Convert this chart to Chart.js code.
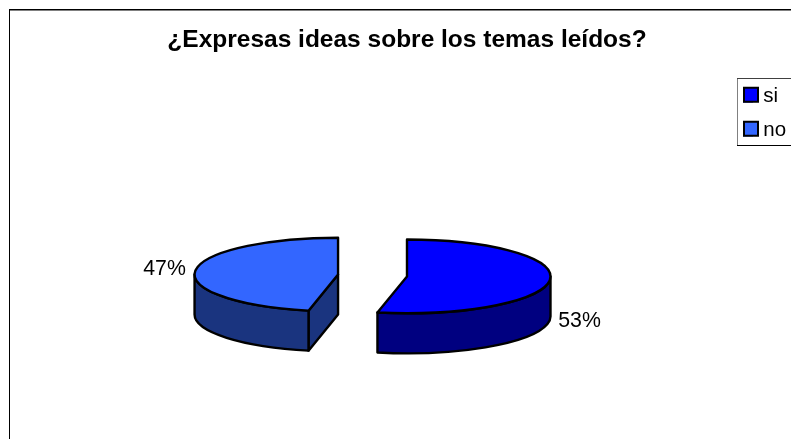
<!DOCTYPE html>
<html><head><meta charset="utf-8">
<style>html,body{margin:0;padding:0;background:#fff}#c{display:block}</style>
<script src="https://cdn.jsdelivr.net/npm/chart.js@4"></script>
</head><body>
<div style="width:791px;height:439px"><canvas id="c" width="791" height="439"></canvas></div>
<script>
const categories = ['si', 'no'];
const shares = [53.3, 46.7];
const valueLabels = ['53%', '47%'];
const topColors = ['#0000FF', '#3366FF'];
const wallColors = ['#000080', '#1A347F'];
const titleText = '¿Expresas ideas sobre los temas leídos?';
const FONT = '"Liberation Sans", Arial, sans-serif';
const TILT = 0.257, DEPTH = 40, EXPLODE = 34.65, NUDGE_X = -1.2, LEG_PAD = 13.5, ROW = 34;

function arcGeom(chart, i) {
  const el = chart.getDatasetMeta(0).data[i];
  const p = el.getProps(['x','y','startAngle','endAngle','outerRadius']);
  const cy0 = (chart.chartArea.top + chart.chartArea.bottom) / 2;
  return {a0:p.startAngle, a1:p.endAngle, mid:(p.startAngle+p.endAngle)/2, R:p.outerRadius,
    cx:p.x, cy:cy0 + (p.y-cy0)*TILT, cy0};
}
const pie3d = {
  id:'pie3d',
  afterLayout(chart){
    const l = chart.legend;
    l.left = 729.5; l.right = 860; l.top = 72.25; l.bottom = 170;
  },
  afterDatasetsUpdate(chart){
    chart.getDatasetMeta(0).data.forEach(el=>{
      const mid = (el.startAngle + el.endAngle) / 2;
      el.x += Math.cos(mid)*EXPLODE + NUDGE_X;
      el.y += Math.sin(mid)*EXPLODE;
    });
  },
  beforeDraw(chart){
    const c = chart.ctx, W = chart.width, H = chart.height;
    c.save();
    c.fillStyle = '#fff'; c.fillRect(0,0,W,H);
    c.fillStyle = '#000'; c.fillRect(9,9,W-9,1); c.fillRect(9,9,1,H-9);
    c.fillStyle = '#808080'; c.fillRect(10,10,W-10,1);
    c.restore();
  },
  beforeDatasetsDraw(chart){
    const c = chart.ctx;
    c.save();
    c.lineWidth = 2.4; c.strokeStyle = '#000'; c.lineJoin = 'round';
    categories.forEach((_,i)=>{
      const g = arcGeom(chart,i);
      c.fillStyle = wallColors[i];
      // cut face at the start angle, when it is turned towards the viewer
      if (Math.cos(g.a0) < -1e-6) {
        const x = g.cx + g.R*Math.cos(g.a0), y = g.cy + g.R*TILT*Math.sin(g.a0);
        c.beginPath(); c.moveTo(g.cx,g.cy); c.lineTo(x,y); c.lineTo(x,y+DEPTH); c.lineTo(g.cx,g.cy+DEPTH); c.closePath();
        c.fill(); c.stroke();
      }
      // rim wall
      const s = Math.max(g.a0,0), e = Math.min(g.a1,Math.PI);
      if (e > s) {
        c.beginPath();
        c.ellipse(g.cx,g.cy,g.R,g.R*TILT,0,s,e);
        c.ellipse(g.cx,g.cy+DEPTH,g.R,g.R*TILT,0,e,s,true);
        c.closePath(); c.fill(); c.stroke();
      }
    });
    c.restore();
    const cy = arcGeom(chart,0).cy0;
    c.save();
    c.translate(0,cy); c.scale(1,TILT); c.translate(0,-cy);
  },
  afterDatasetsDraw(chart){
    const c = chart.ctx;
    c.restore();
    c.save();
    c.lineWidth = 2.4; c.strokeStyle = '#000'; c.lineJoin = 'round';
    categories.forEach((_,i)=>{
      const g = arcGeom(chart,i);
      c.beginPath();
      c.moveTo(g.cx,g.cy);
      c.ellipse(g.cx,g.cy,g.R,g.R*TILT,0,g.a0,g.a1);
      c.closePath(); c.stroke();
    });
    c.font = '21.3px '+FONT; c.fillStyle = '#000'; c.textBaseline = 'middle';
    categories.forEach((_,i)=>{
      const g = arcGeom(chart,i);
      const right = Math.cos(g.mid) > 0;
      const x = g.cx + Math.cos(g.mid)*g.R + (right ? 8.5 : -9.5);
      const y = g.cy + Math.sin(g.mid)*g.R*TILT + (right ? DEPTH+1 : -2);
      c.textAlign = right ? 'left' : 'right';
      c.fillText(valueLabels[i], x, y);
    });
    c.restore();
  },
  afterDraw(chart){
    const c = chart.ctx, l = chart.legend;
    c.save();
    const bx = 737, by = 78;
    c.fillStyle = '#808080'; c.fillRect(bx,by,1,67);
    c.fillStyle = '#404040'; c.fillRect(bx,by,chart.width-bx,1);
    c.fillStyle = '#000'; c.fillRect(bx,by+67,chart.width-bx,1);
    categories.forEach((_,i)=>{
      const x = l.left + LEG_PAD + 1, y = l.top + LEG_PAD + 2 + i*ROW;
      c.fillStyle = topColors[i]; c.fillRect(x,y,14,14);
      c.lineWidth = 2; c.strokeStyle = '#000'; c.strokeRect(x,y,14,14);
    });
    c.restore();
  }
};
new Chart(document.getElementById('c'), {
  type:'pie',
  plugins:[pie3d],
  data:{labels:categories, datasets:[{
    data:shares, backgroundColor:topColors, borderWidth:0, clip:false
  }]},
  options:{
    responsive:false, animation:false, radius:143.5,
    layout:{padding:{left:23,right:0,top:0,bottom:0}},
    plugins:{
      tooltip:{enabled:false},
      title:{display:true,text:titleText,color:'#000',
        font:{family:FONT,size:24.5,weight:'bold',lineHeight:1.2},
        padding:{top:25.3,bottom:57.3}},
      legend:{position:'right',align:'start',maxWidth:71,
        labels:{boxWidth:10,boxHeight:13,padding:LEG_PAD,color:'#000',
          font:{family:FONT,size:20.5}}}
    }
  }
});
</script>
</body></html>
